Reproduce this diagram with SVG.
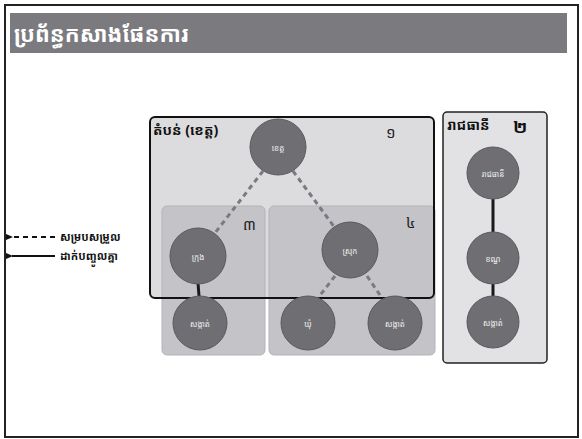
<svg xmlns="http://www.w3.org/2000/svg" width="582" height="439" viewBox="0 0 582 439">
<style>
.kh{font-family:"Noto Sans Khmer","Khmer OS","Noto Sans","DejaVu Sans",sans-serif}
.node circle{fill:#6f6f73;stroke:#5a5a5e;stroke-width:1}
.node text{fill:#f0f0f0;font-size:8px;text-anchor:middle;dominant-baseline:central}
.dash{stroke:#7a7a80;stroke-width:3;stroke-dasharray:5 4;fill:none}
.solid{stroke:#1a1a1a;stroke-width:3;fill:none}
.sub{fill:#c3c3c8;stroke:#b3b3b8;stroke-width:1}
.lbl{font-size:14px;font-weight:bold;fill:#111}
.num{font-size:15px;fill:#222}
</style>
<defs>
<marker id="ah" markerWidth="8" markerHeight="8" refX="1" refY="4" orient="auto" markerUnits="userSpaceOnUse">
<path d="M7,1 L0,4 L7,7 z" fill="#111"/>
</marker>
</defs>
<rect x="0" y="0" width="582" height="439" fill="#ffffff"/>
<rect x="5" y="5" width="573" height="432" fill="none" stroke="#222" stroke-width="2"/>
<g id="title">
<rect x="10" y="13" width="557" height="40" fill="#7b7b7f"/>
<text class="kh" x="14" y="42" font-size="22" font-weight="bold" fill="#ffffff">ប្រព័ន្ធកសាងផែនការ</text>
</g>
<g id="legend">
<line x1="55" y1="237" x2="12" y2="237" stroke="#111" stroke-width="2" stroke-dasharray="5 4" marker-end="url(#ah)"/>
<text class="kh" x="60" y="241" font-size="11" font-weight="bold" fill="#111">សម្របសម្រួល</text>
<line x1="55" y1="256" x2="12" y2="256" stroke="#111" stroke-width="2" marker-end="url(#ah)"/>
<text class="kh" x="60" y="260" font-size="11" font-weight="bold" fill="#111">ដាក់បញ្ចូលគ្នា</text>
</g>
<g id="region-province">
<rect x="150" y="117" width="284" height="181" rx="5" fill="#dcdcde"/>
</g>
<g id="subbox-3">
<rect class="sub" x="162" y="206" width="103" height="149" rx="5"/>
<text class="kh num" x="243" y="230" fill="#eeeeee">៣</text>
</g>
<g id="subbox-4">
<rect class="sub" x="269" y="206" width="166" height="149" rx="5"/>
<text class="kh num" x="406" y="228" fill="#eeeeee">៤</text>
</g>
<g id="region-province-frame">
<rect x="150" y="117" width="284" height="181" rx="5" fill="none" stroke="#111" stroke-width="2"/>
<text class="kh lbl" x="153" y="135">តំបន់ (ខេត្ត)</text>
<text class="kh num" x="386" y="138">១</text>
</g>
<g id="region-capital">
<rect x="443" y="112" width="104" height="251" rx="4" fill="#e2e2e4" stroke="#222" stroke-width="1.5"/>
<text class="kh lbl" x="447" y="130">រាជធានី</text>
<text class="kh" x="513" y="133" font-size="17" font-weight="bold" fill="#111">២</text>
</g>
<g id="connectors">
<line class="dash" x1="263" y1="171" x2="215" y2="233"/>
<line class="dash" x1="293" y1="171" x2="335" y2="228"/>
<line class="dash" x1="335" y1="276" x2="318" y2="298" stroke-width="2"/>
<line class="dash" x1="367" y1="276" x2="382" y2="298" stroke-width="2"/>
<line class="solid" x1="198" y1="283" x2="199" y2="296" stroke="#8a8a90" stroke-width="2"/>
<line class="solid" x1="493" y1="199" x2="493" y2="232"/>
<line class="solid" x1="493" y1="284" x2="493" y2="296"/>
</g>
<g id="n-province" class="node"><circle cx="278" cy="147" r="28"/><text class="kh" x="278" y="147">ខេត្ត</text></g>
<g id="n-city" class="node"><circle cx="198" cy="256" r="28"/><text class="kh" x="198" y="256">ក្រុង</text></g>
<g id="n-district" class="node"><circle cx="350" cy="250" r="28"/><text class="kh" x="350" y="250">ស្រុក</text></g>
<g id="n-sangkat1" class="node"><circle cx="200" cy="323" r="27"/><text class="kh" x="200" y="323">សង្កាត់</text></g>
<g id="n-commune" class="node"><circle cx="308" cy="323" r="27"/><text class="kh" x="308" y="323">ឃុំ</text></g>
<g id="n-sangkat2" class="node"><circle cx="395" cy="323" r="27"/><text class="kh" x="395" y="323">សង្កាត់</text></g>
<g id="n-capital" class="node"><circle cx="493" cy="173" r="26"/><text class="kh" x="493" y="173">រាជធានី</text></g>
<g id="n-khan" class="node"><circle cx="493" cy="258" r="26"/><text class="kh" x="493" y="258">ខណ្ឌ</text></g>
<g id="n-sangkat3" class="node"><circle cx="493" cy="322" r="26"/><text class="kh" x="493" y="322">សង្កាត់</text></g>
</svg>
